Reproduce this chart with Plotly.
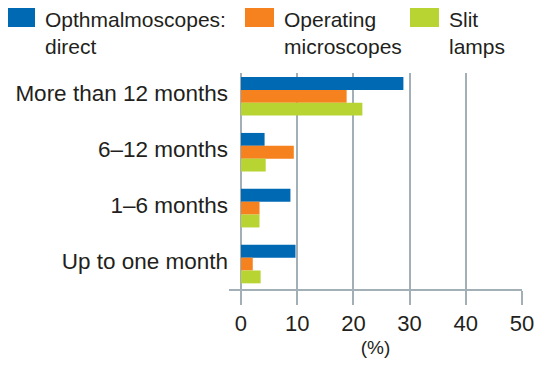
import plotly.graph_objects as go

categories = ["More than 12 months", "6–12 months", "1–6 months", "Up to one month"]
series_names = ["Opthmalmoscopes:<br>direct", "Operating<br>microscopes", "Slit<br>lamps"]
direct = [28.9, 4.2, 8.8, 9.7]
operating = [18.8, 9.4, 3.3, 2.1]
slit = [21.6, 4.4, 3.3, 3.5]
colors = ["#0069B4", "#F5821F", "#B8D433"]
x_ticks = [0, 10, 20, 30, 40, 50]

FONT = "Liberation Sans, Arial, sans-serif"
TXT = "#231F20"
GRID = "#A3AFB7"

fig = go.Figure()
for vals, c in zip([direct, operating, slit], colors):
    fig.add_trace(go.Bar(y=categories, x=vals, orientation="h", marker=dict(color=c, line=dict(width=0)),
                         showlegend=False))

OFF = 8  # page body margin
W, H = 543 - OFF, 366 - OFF
L, R, T, B = 229 - OFF, 21, 73 - OFF, 77
pw, ph = W - L - R, H - T - B

def px(x):
    return (x - OFF - L) / pw

def py(y):
    return (H - B - (y - OFF)) / ph

# manual legend
sw = [(6, 35), (245, 274), (410, 439)]
tx = [43, 282, 447]
for (x0, x1), c, t, name in zip(sw, colors, tx, series_names):
    fig.add_shape(type="rect", xref="paper", yref="paper", x0=px(x0), x1=px(x1), y0=py(27), y1=py(7),
                  fillcolor=c, line=dict(width=0))
    fig.add_annotation(xref="paper", yref="paper", x=px(t), y=py(6), xanchor="left", yanchor="top",
                       text=name, showarrow=False, align="left",
                       font=dict(family=FONT, size=21, color=TXT))

fig.update_layout(
    width=W, height=H,
    margin=dict(l=L, r=R, t=T, b=B, autoexpand=False),
    paper_bgcolor="white", plot_bgcolor="white",
    barmode="group", bargap=0.31, bargroupgap=0,
    font=dict(family=FONT, size=22, color=TXT),
    xaxis=dict(range=[-2.13, 50], tickvals=x_ticks, showgrid=True, gridcolor=GRID, gridwidth=1.5,
               zeroline=True, zerolinecolor=GRID, zerolinewidth=1.5,
               showline=True, linecolor=GRID, linewidth=1.5,
               ticks="outside", ticklen=14, tickcolor=GRID, tickwidth=1.5,
               tickfont=dict(size=22, color=TXT),
               title=dict(text="(%)", font=dict(size=19, color=TXT), standoff=6)),
    yaxis=dict(range=[3.446, -0.417], showgrid=False, zeroline=False, showline=False,
               ticks="", ticklabelshift=3, tickfont=dict(size=22.5, color=TXT)),
)

fig.write_html("out.html")
